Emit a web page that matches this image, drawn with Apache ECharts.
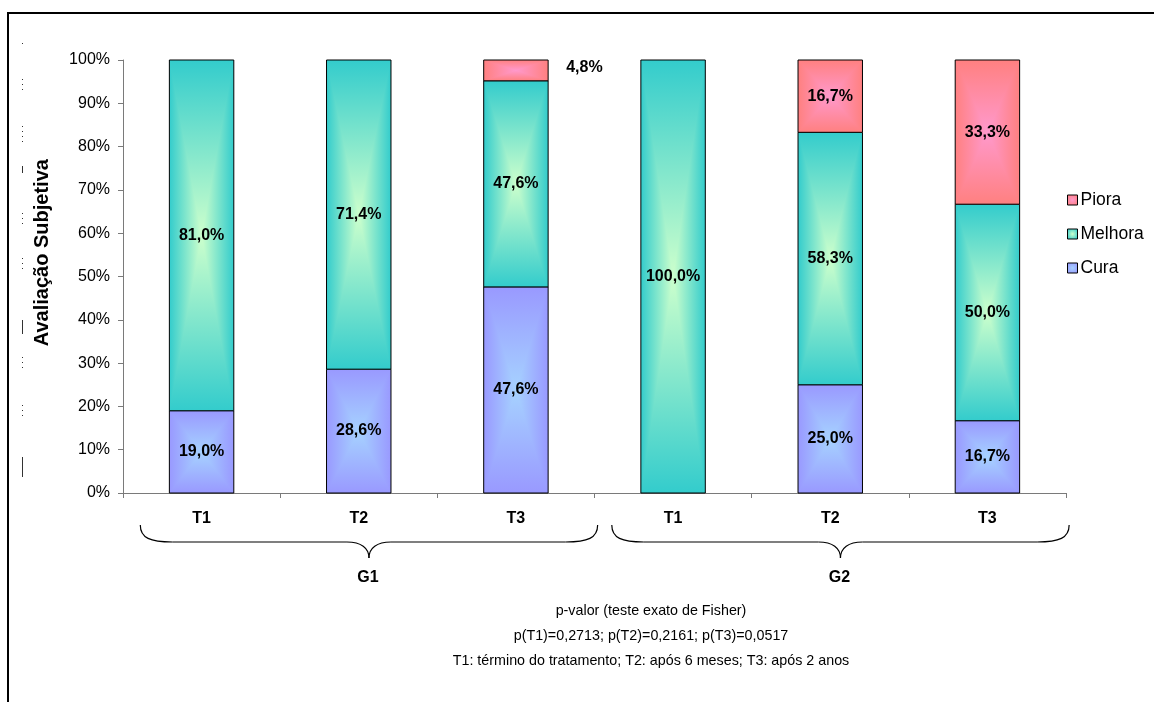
<!DOCTYPE html>
<html>
<head>
<meta charset="utf-8">
<title>Avaliação Subjetiva</title>
<script src="https://cdn.jsdelivr.net/npm/echarts@6/dist/echarts.min.js"></script>
<style>
  html, body { margin: 0; padding: 0; background: #ffffff; }
  #chart { width: 1154px; height: 702px; }
</style>
</head>
<body>
<div id="chart"></div>
<script>
// Groups and evaluation times
const groups = ['G1', 'G2'];
const times = ['T1', 'T2', 'T3'];
const yTicks = ['0%', '10%', '20%', '30%', '40%', '50%', '60%', '70%', '80%', '90%', '100%'];
const yTitle = 'Avaliação Subjetiva';

// Percentages per bar (G1 T1..T3, G2 T1..T3)
const cura = [19.0, 28.6, 47.6, 0, 25.0, 16.7];
const melhora = [81.0, 71.4, 47.6, 100.0, 58.3, 50.0];
const piora = [0, 0, 4.8, 0, 16.7, 33.3];

const footLines = [
  'p-valor (teste exato de Fisher)',
  'p(T1)=0,2713; p(T2)=0,2161; p(T3)=0,0517',
  'T1: término do tratamento; T2: após 6 meses; T3: após 2 anos'
];

const FONT = 'Arial, "Liberation Sans", sans-serif';

// one category per group/time pair
const categories = [];
groups.forEach(g => times.forEach(t => categories.push(g + '|' + t)));

// stacked segments, bottom to top
const stackOrder = [
  { name: 'Cura', values: cura, edge: '#9999FF', center: '#A6D2FF' },
  { name: 'Melhora', values: melhora, edge: '#33CCCC', center: '#CCFFCC' },
  { name: 'Piora', values: piora, edge: '#FF8080', center: '#FF99CC' }
];

function fmt(v) {
  return v.toFixed(1).replace('.', ',') + '%';
}

function lin(x, y, x2, y2, stops) {
  return { type: 'linear', x: x, y: y, x2: x2, y2: y2,
    colorStops: stops.map((c, i) => ({ offset: i / (stops.length - 1), color: c })) };
}

// "from center" rectangular shading: base horizontal fade plus top/bottom triangles
function makeRender(spec) {
  return function (params, api) {
    const idx = api.value(0);
    const base = api.value(1);
    const val = api.value(2);
    if (!val) return null;
    const pb = api.coord([idx, base]);
    const pt = api.coord([idx, base + val]);
    const band = api.size([1, 0])[0];
    const w = band * 0.41;
    const x0 = pb[0] - w / 2, x1 = pb[0] + w / 2;
    const yb = pb[1], yt = pt[1];
    const cx = pb[0], cy = (yb + yt) / 2;
    const E = spec.edge, C = spec.center;
    const children = [
      { type: 'rect', shape: { x: x0, y: yt, width: w, height: yb - yt },
        style: { fill: lin(0, 0, 1, 0, [E, C, E]) } },
      { type: 'polygon', shape: { points: [[x0, yt], [x1, yt], [cx, cy]] },
        style: { fill: lin(0, 0, 0, 1, [E, C]) } },
      { type: 'polygon', shape: { points: [[x0, yb], [x1, yb], [cx, cy]] },
        style: { fill: lin(0, 0, 0, 1, [C, E]) } },
      { type: 'rect', shape: { x: x0, y: yt, width: w, height: yb - yt },
        style: { fill: null, stroke: '#000', lineWidth: 1 } }
    ];
    const small = (yb - yt) < 26;
    children.push({
      type: 'text', z2: 10,
      style: {
        text: fmt(val),
        x: small ? x1 + 18 : cx,
        y: small ? yt + 8 : cy,
        align: small ? 'left' : 'center',
        verticalAlign: 'middle',
        fontSize: 16, fontWeight: 'bold', fontFamily: FONT, fill: '#000'
      }
    });
    return { type: 'group', children: children };
  };
}

const cumulative = categories.map(() => 0);
const series = stackOrder.map(spec => {
  const data = spec.values.map((v, i) => {
    const item = [i, cumulative[i], v, cumulative[i] + v];
    cumulative[i] += v;
    return item;
  });
  return {
    name: spec.name,
    type: 'custom',
    renderItem: makeRender(spec),
    encode: { x: 0, y: [1, 3] },
    itemStyle: {
      color: { type: 'radial', x: 0.5, y: 0.5, r: 0.6,
        colorStops: [{ offset: 0, color: spec.center }, { offset: 1, color: spec.edge }] },
      borderColor: '#000', borderWidth: 1
    },
    data: data
  };
});

const chart = echarts.init(document.getElementById('chart'), null, { renderer: 'canvas' });

chart.setOption({
  animation: false,
  backgroundColor: '#ffffff',
  grid: { left: 123, right: 88, top: 60, bottom: 209, containLabel: false },
  legend: {
    orient: 'vertical',
    left: 1062, top: 186,
    icon: 'rect', itemWidth: 10, itemHeight: 10, itemGap: 16,
    data: ['Piora', 'Melhora', 'Cura'],
    itemStyle: { borderColor: '#000', borderWidth: 1 },
    textStyle: { fontSize: 17.5, lineHeight: 17, color: '#000', fontFamily: FONT, padding: [0, 0, 0, -2] }
  },
  xAxis: {
    type: 'category',
    data: categories,
    axisLine: { lineStyle: { color: '#7a7a7a', width: 1 } },
    axisTick: { show: true, length: 5, lineStyle: { color: '#7a7a7a' } },
    axisLabel: {
      margin: 18, fontSize: 16, fontWeight: 'bold', color: '#000', fontFamily: FONT,
      formatter: v => v.split('|')[1]
    },
    splitLine: { show: false }
  },
  yAxis: {
    type: 'value',
    min: 0, max: 100, interval: 10,
    axisLine: { show: true, lineStyle: { color: '#7a7a7a', width: 1 } },
    axisTick: { show: true, length: 5, lineStyle: { color: '#7a7a7a' } },
    axisLabel: {
      margin: 13, fontSize: 16, color: '#000', fontFamily: FONT,
      formatter: v => yTicks[Math.round(v / 10)]
    },
    splitLine: { show: false }
  },
  series: series
});

// Group braces and captions placed from the category axis
function xOf(i) { return chart.convertToPixel({ xAxisIndex: 0 }, i); }
function yOf(v) { return chart.convertToPixel({ yAxisIndex: 0 }, v); }
const axisY = yOf(0);
const band = xOf(1) - xOf(0);

function brace(L, R, y0) {
  const yT = y0 + 32, yM = y0 + 49, yTip = y0 + 65;
  const C = (L + R) / 2;
  const st = { stroke: '#000', lineWidth: 1.2, fill: null };
  return [
    { type: 'bezierCurve', silent: true, style: st,
      shape: { x1: L, y1: yT, cpx1: L, cpy1: yM - 4, cpx2: L + 10, cpy2: yM, x2: L + 32, y2: yM } },
    { type: 'line', silent: true, style: st,
      shape: { x1: L + 32, y1: yM, x2: C - 22, y2: yM } },
    { type: 'bezierCurve', silent: true, style: st,
      shape: { x1: C - 22, y1: yM, cpx1: C - 8, cpy1: yM, cpx2: C, cpy2: yM + 6, x2: C, y2: yTip } },
    { type: 'bezierCurve', silent: true, style: st,
      shape: { x1: C, y1: yTip, cpx1: C, cpy1: yM + 6, cpx2: C + 8, cpy2: yM, x2: C + 22, y2: yM } },
    { type: 'line', silent: true, style: st,
      shape: { x1: C + 22, y1: yM, x2: R - 32, y2: yM } },
    { type: 'bezierCurve', silent: true, style: st,
      shape: { x1: R - 32, y1: yM, cpx1: R - 10, cpy1: yM, cpx2: R, cpy2: yM - 4, x2: R, y2: yT } }
  ];
}

const graphics = [
  // outer frame
  { type: 'rect', silent: true, z: -1,
    shape: { x: 8, y: 13, width: 1300, height: 900 },
    style: { fill: null, stroke: '#000', lineWidth: 2 } },
  // value axis title
  { type: 'text', silent: true,
    x: 42, y: yOf(55.5), rotation: Math.PI / 2,
    style: { text: yTitle, x: 0, y: 0, align: 'center', verticalAlign: 'middle',
      fontSize: 20, fontWeight: 'bold', fontFamily: FONT, fill: '#000' } }
];

groups.forEach((g, gi) => {
  const first = gi * times.length;
  const last = first + times.length - 1;
  const L = xOf(first) - band * 0.39;
  const R = xOf(last) + band * 0.52;
  brace(L, R, axisY).forEach(el => graphics.push(el));
  graphics.push({
    type: 'text', silent: true,
    style: { text: g, x: (L + R) / 2 - 1, y: axisY + 85, align: 'center', verticalAlign: 'middle',
      fontSize: 16, fontWeight: 'bold', fontFamily: FONT, fill: '#000' }
  });
});

footLines.forEach((t, i) => {
  graphics.push({
    type: 'text', silent: true,
    style: { text: t, x: 651, y: 611 + i * 25, align: 'center', verticalAlign: 'middle',
      fontSize: 14.3, fontFamily: FONT, fill: '#000' }
  });
});

// faint marks along the left margin
const marks = [
  [43, 45, 'dot'], [79, 92, 'dot'], [126, 142, 'dot'], [166, 173, 'line'],
  [213, 228, 'dot'], [258, 272, 'dot'], [320, 334, 'line'], [357, 372, 'dot'],
  [405, 420, 'dot'], [457, 477, 'line']
];
marks.forEach(m => {
  graphics.push({
    type: 'line', silent: true,
    shape: { x1: 22.5, y1: m[0], x2: 22.5, y2: m[1] },
    style: { stroke: '#333', lineWidth: 1, lineDash: m[2] === 'dot' ? [1, 4] : null }
  });
});

chart.setOption({ graphic: graphics });
</script>
</body>
</html>
